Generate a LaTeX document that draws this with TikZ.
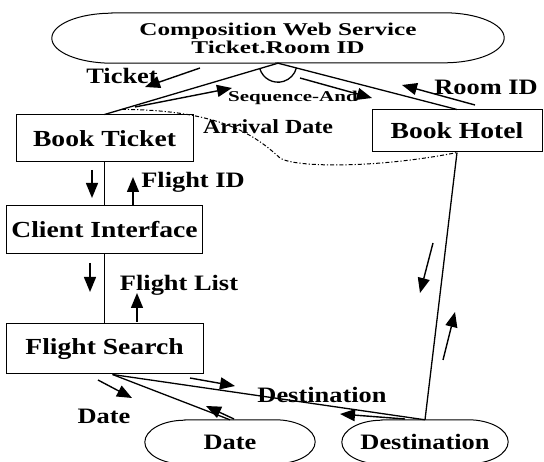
\documentclass[tikz,border=0pt]{standalone}
\usepackage{fontspec}
\setmainfont{Liberation Serif}[FakeStretch=1.2]
\newfontfamily\widefont{Liberation Serif}[FakeStretch=1.4]
\usetikzlibrary{positioning, shapes.geometric, arrows.meta, calc}

\tikzset{
  box/.style={draw, rectangle, line width=1pt, inner sep=0pt, font=\fontsize{23}{27}\selectfont\bfseries},
  term/.style={rectangle, inner sep=0pt, font=\fontsize{22}{26}\selectfont\bfseries},
  lbl/.style={inner sep=0pt, font=\fontsize{22}{26}\selectfont\bfseries},
  link/.style={line width=1.3pt},
  flow/.style={->, line width=1.4pt}
}

% flattened oval outline round a term node: name, x radius, y radius
\newcommand{\capsule}[3]{%
  \draw[line width=1pt] ([xshift=#2]#1.north west) -- ([xshift=-#2]#1.north east)
    arc[start angle=90, end angle=-90, x radius=#2, y radius=#3]
    -- ([xshift=#2]#1.south west)
    arc[start angle=270, end angle=90, x radius=#2, y radius=#3] -- cycle;}

\begin{document}
\begin{tikzpicture}[x=1pt, y=1pt, >={Triangle[length=15pt,width=12pt]}]
    \useasboundingbox (0,0) rectangle (544,-462);

    % Composite service at the top
    \node[term, minimum width=452pt, minimum height=50pt, align=center,
          font=\widefont\fontsize{18}{18}\selectfont\bfseries] (comp) at (278,-38)
          {Composition Web Service\\Ticket.Room ID};
    \capsule{comp}{60pt}{25pt}

    % Left column nodes
    \node[box, minimum width=177pt, minimum height=47pt] (ticket) at (104.5,-138.5) {Book Ticket};
    \node[box, minimum width=196pt, minimum height=48pt, below=43pt of ticket] (client) {Client Interface};
    \node[box, minimum width=197pt, minimum height=50pt, below=69pt of client] (search) {Flight Search};

    % Right node
    \node[box, minimum width=170pt, minimum height=42pt] (hotel) at (457,-131) {Book Hotel};

    % Inputs at the bottom
    \node[term, minimum width=170pt, minimum height=44pt] (date) at (230,-442) {Date};
    \node[term, minimum width=166pt, minimum height=44pt] (dest) at (425,-442) {Destination};
    \capsule{date}{40pt}{22pt}
    \capsule{dest}{40pt}{22pt}

    % Connections
    \draw[link] (comp.south) -- (ticket.north);
    \draw[link] (comp.south) -- (hotel.north);
    \draw[link] ([shift={(196.7:19pt)}]comp.south) arc[start angle=196.7, end angle=345.3, radius=19pt];
    \draw[link] (ticket.south) -- (client.north);
    \draw[link] (client.south) -- (search.north);
    \draw[link] ([xshift=8pt]search.south) -- (date.north);
    \draw[link] ([xshift=8pt]search.south) -- (dest.north);
    \draw[link] (hotel.south) -- (dest.north);
    \draw[line width=1pt, dash pattern=on 4pt off 2pt on 1.2pt off 2pt]
        ($(ticket.north)!0.1!(comp.south)$) .. controls (220,-110) and (255,-135) .. (280,-158)
        .. controls (295,-168) and (380,-168) .. (hotel.south);

    % Labels
    \node[lbl] (lticket) at (122,-76) {Ticket};
    \node[lbl, font=\widefont\fontsize{15}{15}\selectfont\bfseries] (lseq) at (293,-98) {Sequence-And};
    \node[lbl, font=\fontsize{20}{24}\selectfont\bfseries] (larrival) at (268,-127) {Arrival Date};
    \node[lbl] (lroom) at (486,-87) {Room ID};
    \node[lbl] (lflightid) at (193,-182) {Flight ID};
    \node[lbl] (lflightlist) at (179,-285) {Flight List};
    \node[lbl] (ldate) at (104,-416) {Date};
    \node[lbl] (ldest) at (322,-395) {Destination};

    % Flow arrows
    \draw[flow] (200,-68) -- (145,-87);
    \draw[flow] (135,-107) -- (232,-88);
    \draw[flow] (300,-78) -- (372,-98);
    \draw[flow] (475,-105) -- (402,-85);
    \draw[flow] (92,-170) -- (92,-198);
    \draw[flow] (133,-205) -- (133,-177);
    \draw[flow] (90,-263) -- (90,-292);
    \draw[flow] (137,-322) -- (137,-293);
    \draw[flow] (98,-380) -- (132,-398);
    \draw[flow] (190,-378) -- (235,-386);
    \draw[flow] (234,-419) -- (206,-406);
    \draw[flow] (405,-419) -- (340,-414);
    \draw[flow] (433,-243) -- (420,-293);
    \draw[flow] (443,-360) -- (455,-312);

\end{tikzpicture}
\end{document}
